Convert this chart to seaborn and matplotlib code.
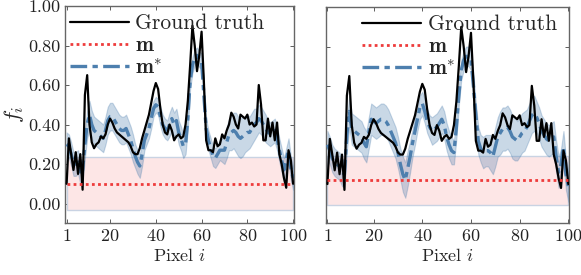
import numpy as np
import pandas as pd
import matplotlib
matplotlib.use("Agg")
import matplotlib.pyplot as plt
import seaborn as sns

pixels = list(range(1, 101))

ground_truth = [0.10, 0.33, 0.25, 0.17, 0.26, 0.15, 0.25, 0.07, 0.55, 0.65,
                0.40, 0.31, 0.28, 0.30, 0.31, 0.34, 0.33, 0.35, 0.40, 0.43,
                0.41, 0.38, 0.36, 0.35, 0.34, 0.33, 0.32, 0.31, 0.29, 0.26,
                0.25, 0.25, 0.28, 0.33, 0.37, 0.41, 0.45, 0.51, 0.57, 0.61,
                0.58, 0.48, 0.40, 0.36, 0.35, 0.40, 0.37, 0.32, 0.34, 0.35,
                0.33, 0.34, 0.40, 0.52, 0.70, 0.90, 0.80, 0.67, 0.75, 0.87,
                0.62, 0.32, 0.27, 0.27, 0.26, 0.33, 0.29, 0.30, 0.35, 0.33,
                0.37, 0.40, 0.46, 0.44, 0.40, 0.38, 0.45, 0.44, 0.43, 0.45,
                0.40, 0.41, 0.39, 0.40, 0.60, 0.50, 0.32, 0.32, 0.43, 0.34,
                0.41, 0.32, 0.41, 0.25, 0.20, 0.13, 0.08, 0.27, 0.22, 0.10]

mstar_left = [0.30, 0.29, 0.25, 0.20, 0.20, 0.21, 0.16, 0.17, 0.30, 0.40,
              0.45, 0.40, 0.37, 0.36, 0.35, 0.34, 0.33, 0.37, 0.42, 0.44,
              0.44, 0.42, 0.40, 0.38, 0.37, 0.37, 0.38, 0.35, 0.32, 0.28,
              0.24, 0.21, 0.19, 0.25, 0.32, 0.35, 0.38, 0.43, 0.48, 0.50,
              0.49, 0.44, 0.40, 0.38, 0.37, 0.40, 0.43, 0.40, 0.42, 0.36,
              0.33, 0.29, 0.30, 0.43, 0.62, 0.70, 0.74, 0.75, 0.73, 0.72,
              0.55, 0.38, 0.32, 0.28, 0.24, 0.23, 0.25, 0.27, 0.27, 0.27,
              0.31, 0.35, 0.36, 0.37, 0.36, 0.34, 0.33, 0.34, 0.35, 0.36,
              0.36, 0.38, 0.40, 0.41, 0.43, 0.42, 0.40, 0.38, 0.36, 0.35,
              0.36, 0.37, 0.33, 0.27, 0.22, 0.17, 0.22, 0.27, 0.18, 0.13]

std_left = [0.06, 0.06, 0.06, 0.06, 0.06, 0.06, 0.06, 0.06, 0.07, 0.07,
            0.07, 0.07, 0.07, 0.07, 0.07, 0.07, 0.07, 0.07, 0.07, 0.07,
            0.07, 0.07, 0.07, 0.07, 0.07, 0.07, 0.07, 0.07, 0.07, 0.07,
            0.06, 0.06, 0.06, 0.06, 0.05, 0.05, 0.05, 0.05, 0.04, 0.04,
            0.04, 0.05, 0.05, 0.05, 0.05, 0.06, 0.06, 0.06, 0.06, 0.06,
            0.06, 0.06, 0.05, 0.05, 0.04, 0.04, 0.04, 0.04, 0.04, 0.04,
            0.05, 0.05, 0.05, 0.05, 0.05, 0.05, 0.05, 0.05, 0.06, 0.07,
            0.08, 0.08, 0.09, 0.09, 0.10, 0.10, 0.10, 0.10, 0.09, 0.09,
            0.08, 0.08, 0.08, 0.07, 0.07, 0.07, 0.07, 0.07, 0.06, 0.06,
            0.06, 0.06, 0.06, 0.06, 0.06, 0.06, 0.06, 0.06, 0.06, 0.06]

mstar_right = [0.30, 0.27, 0.23, 0.21, 0.20, 0.19, 0.16, 0.15, 0.35, 0.47,
               0.38, 0.37, 0.36, 0.35, 0.34, 0.31, 0.29, 0.36, 0.43, 0.42,
               0.41, 0.42, 0.43, 0.43, 0.42, 0.40, 0.37, 0.34, 0.31, 0.26,
               0.20, 0.15, 0.12, 0.18, 0.24, 0.31, 0.37, 0.43, 0.49, 0.51,
               0.47, 0.42, 0.39, 0.37, 0.38, 0.39, 0.41, 0.43, 0.40, 0.34,
               0.30, 0.27, 0.26, 0.39, 0.55, 0.68, 0.73, 0.75, 0.75, 0.73,
               0.60, 0.45, 0.32, 0.28, 0.26, 0.27, 0.27, 0.26, 0.24, 0.29,
               0.34, 0.36, 0.38, 0.38, 0.39, 0.37, 0.34, 0.33, 0.32, 0.34,
               0.36, 0.37, 0.39, 0.42, 0.45, 0.46, 0.44, 0.41, 0.37, 0.35,
               0.33, 0.32, 0.33, 0.34, 0.24, 0.16, 0.20, 0.29, 0.15, 0.09]

std_right = [0.07, 0.07, 0.07, 0.07, 0.07, 0.07, 0.07, 0.07, 0.08, 0.08,
             0.08, 0.08, 0.08, 0.08, 0.08, 0.08, 0.08, 0.08, 0.08, 0.08,
             0.08, 0.08, 0.08, 0.08, 0.08, 0.08, 0.08, 0.08, 0.08, 0.08,
             0.08, 0.09, 0.09, 0.09, 0.08, 0.07, 0.07, 0.06, 0.06, 0.06,
             0.06, 0.06, 0.06, 0.07, 0.07, 0.07, 0.07, 0.07, 0.07, 0.07,
             0.07, 0.07, 0.06, 0.06, 0.05, 0.05, 0.05, 0.05, 0.05, 0.05,
             0.06, 0.06, 0.07, 0.07, 0.08, 0.08, 0.08, 0.09, 0.09, 0.10,
             0.10, 0.11, 0.11, 0.11, 0.11, 0.11, 0.11, 0.11, 0.10, 0.10,
             0.10, 0.10, 0.09, 0.09, 0.09, 0.09, 0.08, 0.08, 0.08, 0.08,
             0.08, 0.08, 0.08, 0.08, 0.08, 0.08, 0.08, 0.08, 0.08, 0.08]

m_left, m_left_halfwidth = 0.10, 0.135
m_right, m_right_halfwidth = 0.12, 0.125

x_ticks = [1, 20, 40, 60, 80, 100]
y_ticks = [0.0, 0.2, 0.4, 0.6, 0.8, 1.0]
y_ticklabels = ["0.00", "0.20", "0.40", "0.60", "0.80", "1.00"]

sns.set_style("ticks")
plt.rcParams["font.family"] = ["cmr10", "DejaVu Serif"]
plt.rcParams["mathtext.fontset"] = "cm"
plt.rcParams["axes.formatter.use_mathtext"] = True
plt.rcParams["font.size"] = 13

fig = plt.figure(figsize=(5.81, 2.75), dpi=100)
ax_l = fig.add_axes([65 / 581, (275 - 223.3) / 275, 229 / 581, 217.3 / 275])
ax_r = fig.add_axes([325.7 / 581, (275 - 223.3) / 275, 243.6 / 581, 216 / 275])

blue = "#4d7fae"
red = "#ee3b3b"

panels = [
    (ax_l, mstar_left, std_left, m_left, m_left_halfwidth, 0.02),
    (ax_r, mstar_right, std_right, m_right, m_right_halfwidth, 0.15),
]

for ax, ms, sd, mval, mhw, legx in panels:
    df = pd.DataFrame({"pixel": pixels, "gt": ground_truth, "ms": ms,
                       "lo": np.array(ms) - np.array(sd),
                       "hi": np.array(ms) + np.array(sd),
                       "m": [mval] * len(pixels)})
    ax.fill_between(df["pixel"], mval - mhw, mval + mhw, facecolor="#fde6e6",
                    edgecolor="#c9d3e3", linewidth=1.0, zorder=1)
    ax.fill_between(df["pixel"], df["lo"], df["hi"], facecolor=blue, alpha=0.3,
                    edgecolor=blue, linewidth=0.8, zorder=2)
    sns.lineplot(data=df, x="pixel", y="gt", ax=ax, color="black", lw=1.6,
                 label="Ground truth", zorder=4)
    sns.lineplot(data=df, x="pixel", y="m", ax=ax, color=red, lw=2.0,
                 linestyle=(0, (1, 1.2)), label=r"$\mathbf{m}$", zorder=5)
    sns.lineplot(data=df, x="pixel", y="ms", ax=ax, color=blue, lw=2.4,
                 linestyle=(0, (5, 1.6, 1.6, 1.6)), label=r"$\mathbf{m}^{*}$", zorder=3)
    ax.set_xlim(0.3, 100.4)
    ax.set_ylim(-0.1, 1.0)
    ax.set_xticks(x_ticks)
    ax.set_yticks(y_ticks)
    ax.tick_params(direction="in", top=True, right=True, length=3, width=0.6,
                   colors="#444444", labelcolor="#222222", labelsize=13)
    for s in ax.spines.values():
        s.set_color("#666666")
        s.set_linewidth(1.0)
    ax.set_xlabel("Pixel $i$", fontsize=13, labelpad=2)
    ax.legend(loc="upper left", bbox_to_anchor=(legx, 0.965), frameon=False,
              fontsize=15.5, handlelength=2.75, handletextpad=0.3,
              labelspacing=0.12, borderpad=0, borderaxespad=0)

ax_l.set_yticklabels(y_ticklabels)
ax_l.set_ylabel("$f_i$", fontsize=16, labelpad=1)
ax_r.set_yticklabels([])
ax_r.set_ylabel("")

fig.savefig("out.png", dpi=100)
